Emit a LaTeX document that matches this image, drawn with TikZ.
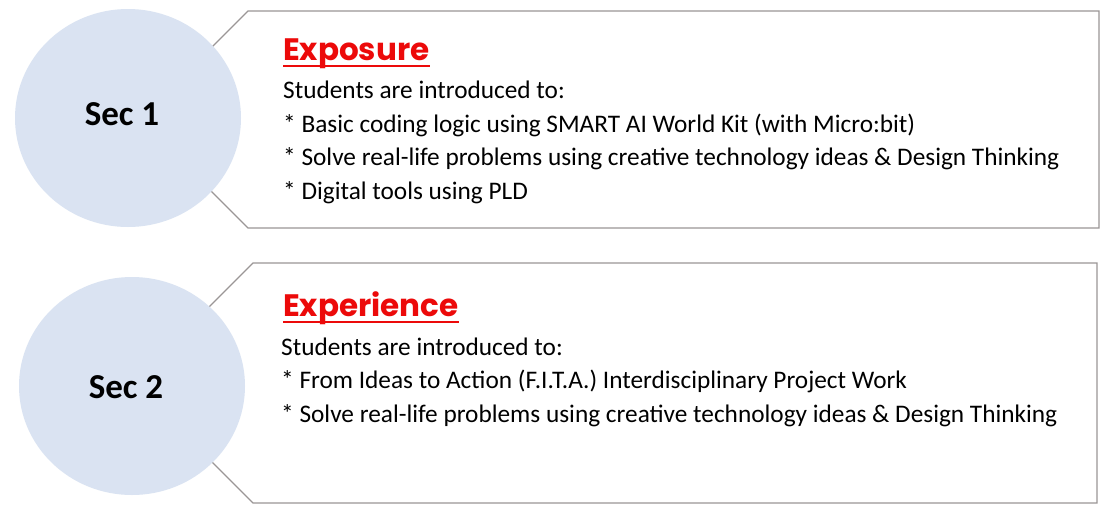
\documentclass[tikz,border=0pt]{standalone}
\usepackage{fontspec}
\setmainfont{Carlito}
\newfontfamily\headfont{Poppins}
\usetikzlibrary{shapes.geometric,calc}
\definecolor{circfill}{RGB}{218,227,242}
\definecolor{boxline}{RGB}{155,150,150}
\definecolor{headred}{RGB}{236,10,10}
\tikzset{
  callout/.style={draw=boxline, line width=1.1pt, fill=white, line join=miter},
  seccirc/.style={ellipse, fill=circfill, draw=none, minimum width=226pt, minimum height=218pt, inner sep=0pt},
  seclabel/.style={font=\fontsize{35}{38}\selectfont\bfseries, inner sep=0pt},
  headtext/.style={anchor=base west, inner sep=0pt, font=\headfont\fontsize{31}{34}\selectfont\bfseries, text=headred},
  headline/.style={draw=headred, line width=2pt},
  bodytext/.style={anchor=base west, inner sep=0pt, font=\fontsize{25.3}{28}\selectfont, text=black}
}
\begin{document}
\begin{tikzpicture}[x=1pt,y=-1pt]
\useasboundingbox (0,0) rectangle (1111,512);
\fill[white] (0,0) rectangle (1111,512);
% callout boxes
\draw[callout] (248,11) -- (1099,11) -- (1099,228) -- (248,228) -- (215,195) -- (180,160) -- (180,79) -- (215,44) -- cycle;
\draw[callout] (253,263) -- (1097,263) -- (1097,503) -- (253,503) -- (214,464) -- (185,435) -- (185,331) -- (214,302) -- cycle;
% circles
\node[seccirc] (c1) at (128,118) {};
\node[seccirc] (c2) at (132,386) {};
\node[seclabel] (s1) at (122,114) {Sec 1};
\node[seclabel] (s2) at (126,387) {Sec 2};
% box 1 text
\node[headtext] (h1) at (283,60) {Exposure};
\draw[headline] ($(h1.base west)+(0,6)$) -- ($(h1.base east)+(0,6)$);
\node[bodytext] (a1) at (283,98) {Students are introduced to:};
\node[bodytext] (a2) at (283,132) {* Basic coding logic using SMART AI World Kit (with Micro:bit)};
\node[bodytext] (a3) at (283,165.5) {* Solve real-life problems using creative technology ideas \& Design Thinking};
\node[bodytext] (a4) at (283,199) {* Digital tools using PLD};
% box 2 text
\node[headtext] (h2) at (283,316) {Experience};
\draw[headline] ($(h2.base west)+(0,6)$) -- ($(h2.base east)+(0,6)$);
\node[bodytext] (b1) at (281,355) {Students are introduced to:};
\node[bodytext] (b2) at (281,388.5) {* From Ideas to Action (F.I.T.A.) Interdisciplinary Project Work};
\node[bodytext] (b3) at (281,422) {* Solve real-life problems using creative technology ideas \& Design Thinking};
\end{tikzpicture}
\end{document}
